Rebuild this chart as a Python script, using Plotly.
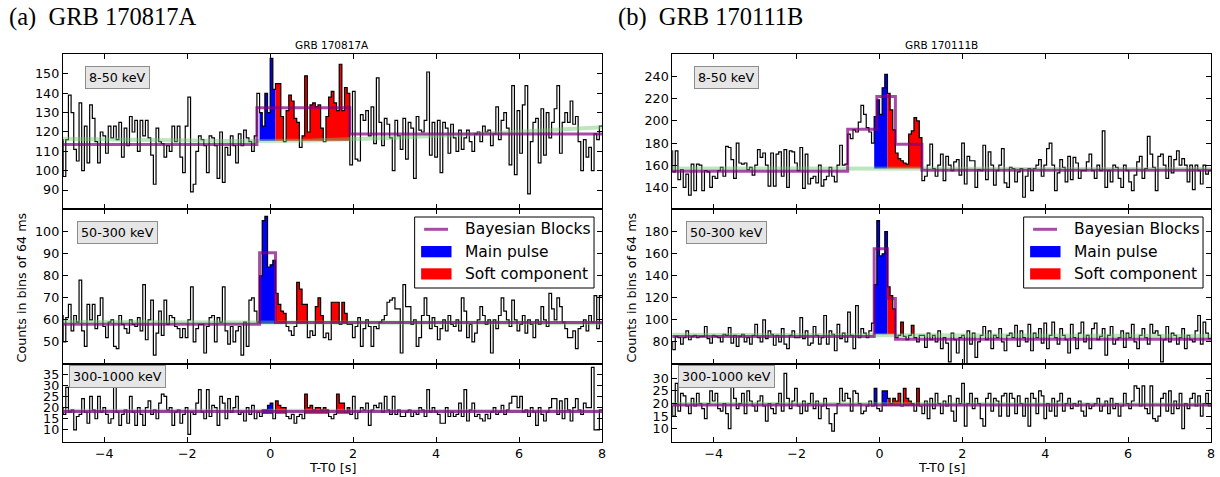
import numpy as np
import plotly.graph_objects as go

W, H = 1220, 477
BIN = 0.064          # 64 ms light-curve bins
T_START = -5.056     # first bin edge (aligned to T0)

# ---------------- GRB 170817A counts per 64 ms bin ----------------
a_8_50 = [
    116, 97, 116, 139, 130, 111, 105, 135, 100, 123,
    104, 134, 127, 115, 104, 120, 118, 109, 123, 117,
    123, 116, 125, 107, 122, 113, 128, 120, 126, 110,
    126, 118, 126, 117, 108, 93, 122, 115, 114, 107,
    113, 110, 123, 115, 123, 107, 99, 123, 138, 89,
    93, 110, 118, 116, 113, 99, 118, 117, 113, 96,
    120, 94, 112, 108, 118, 113, 104, 119, 113, 121,
    117, 115, 110, 118, 140, 130, 123, 140, 130, 158,
    142, 145, 145, 128, 115, 131, 139, 136, 127, 125,
    112, 118, 149, 120, 134, 135, 133, 134, 122, 115,
    128, 138, 141, 135, 131, 155, 131, 143, 140, 103,
    141, 106, 105, 129, 126, 131, 118, 133, 114, 148,
    125, 113, 127, 124, 117, 100, 126, 118, 111, 127,
    106, 125, 122, 96, 128, 121, 120, 126, 151, 108,
    125, 107, 126, 99, 125, 122, 109, 124, 117, 110,
    121, 111, 117, 121, 115, 110, 119, 120, 115, 123,
    120, 121, 113, 119, 133, 116, 126, 130, 122, 103,
    144, 98, 131, 109, 134, 144, 88, 115, 125, 127,
    104, 132, 108, 130, 117, 125, 132, 144, 109, 125,
    130, 125, 136, 124, 128, 115, 100, 116, 107, 112,
    100, 119, 116, 123,
]
a_50_300 = [
    62, 50, 61, 67, 55, 62, 59, 78, 55, 48,
    67, 60, 67, 56, 62, 70, 57, 52, 59, 60,
    48, 47, 62, 58, 56, 54, 60, 58, 57, 61,
    55, 76, 51, 60, 69, 44, 54, 64, 53, 69,
    58, 62, 61, 57, 56, 52, 56, 52, 60, 75,
    50, 56, 58, 58, 45, 57, 61, 62, 50, 61,
    59, 75, 55, 49, 57, 50, 55, 57, 44, 59,
    48, 69, 70, 64, 59, 80, 105, 107, 84, 85,
    87, 72, 67, 64, 63, 57, 55, 53, 57, 77,
    74, 67, 67, 52, 55, 53, 66, 70, 62, 52,
    54, 51, 68, 68, 68, 58, 68, 63, 58, 58,
    52, 57, 61, 48, 56, 60, 57, 48, 57, 56,
    59, 60, 62, 68, 69, 70, 65, 65, 45, 76,
    66, 66, 58, 60, 48, 52, 62, 70, 62, 56,
    61, 57, 51, 56, 60, 55, 62, 58, 57, 60,
    55, 70, 64, 52, 58, 50, 54, 60, 66, 62,
    58, 60, 45, 60, 56, 62, 70, 64, 60, 57,
    69, 60, 55, 58, 62, 54, 60, 58, 52, 60,
    58, 66, 60, 57, 72, 65, 60, 70, 66, 59,
    56, 52, 52, 55, 47, 56, 57, 60, 55, 62,
    59, 71, 56, 71,
]
a_300_1000 = [
    20, 17, 29, 18, 19, 10, 16, 17, 24, 18,
    13, 25, 19, 15, 25, 18, 20, 17, 13, 15,
    30, 18, 12, 17, 19, 13, 25, 18, 12, 20,
    17, 12, 20, 23, 17, 19, 15, 22, 26, 25,
    19, 20, 12, 18, 19, 13, 17, 20, 8, 18,
    17, 22, 28, 18, 15, 28, 16, 21, 20, 12,
    25, 22, 15, 24, 18, 20, 25, 17, 18, 14,
    20, 17, 21, 15, 18, 16, 19, 19, 21, 22,
    15, 23, 21, 20, 20, 16, 15, 17, 13, 16,
    17, 15, 26, 20, 21, 19, 20, 20, 19, 20,
    19, 16, 15, 17, 26, 22, 22, 18, 20, 17,
    25, 15, 18, 20, 19, 22, 12, 19, 21, 20,
    22, 18, 25, 19, 17, 25, 17, 19, 16, 16,
    18, 19, 16, 18, 17, 20, 19, 16, 28, 18,
    20, 18, 17, 13, 13, 20, 16, 18, 16, 17,
    22, 16, 28, 14, 19, 22, 16, 17, 15, 14,
    17, 15, 18, 20, 17, 18, 21, 17, 19, 22,
    25, 25, 20, 25, 18, 19, 16, 20, 18, 12,
    20, 17, 14, 18, 20, 24, 24, 17, 23, 15,
    24, 19, 14, 20, 24, 19, 17, 22, 20, 20,
    38, 10, 10, 19,
]

# ---------------- GRB 170111B counts per 64 ms bin ----------------
b_8_50 = [
    173, 154, 173, 147, 156, 140, 152, 133, 161, 137,
    161, 160, 137, 155, 154, 140, 150, 148, 155, 158,
    150, 177, 176, 165, 148, 180, 162, 161, 162, 156,
    158, 151, 160, 174, 167, 171, 160, 141, 171, 141,
    170, 172, 150, 174, 140, 173, 172, 162, 155, 176,
    139, 170, 143, 148, 150, 144, 160, 141, 147, 150,
    158, 150, 145, 160, 178, 160, 161, 188, 184, 192,
    190, 199, 214, 206, 194, 190, 180, 204, 219, 206,
    230, 242, 225, 210, 192, 171, 166, 164, 162, 161,
    188, 191, 203, 200, 185, 146, 150, 160, 179, 157,
    150, 160, 170, 146, 168, 160, 155, 163, 165, 151,
    180, 143, 168, 164, 164, 140, 156, 155, 178, 147,
    172, 160, 142, 155, 160, 175, 144, 140, 158, 157,
    145, 154, 157, 131, 150, 157, 137, 157, 160, 165,
    150, 160, 175, 180, 160, 137, 153, 165, 158, 145,
    168, 147, 167, 162, 148, 155, 155, 163, 170, 155,
    148, 160, 155, 191, 140, 155, 145, 160, 158, 148,
    140, 160, 155, 145, 137, 151, 163, 168, 148, 157,
    186, 170, 158, 137, 168, 170, 160, 148, 168, 153,
    165, 173, 160, 166, 160, 145, 160, 138, 160, 155,
    143, 160, 152, 155,
]
b_50_300 = [
    80, 73, 85, 84, 78, 84, 90, 82, 85, 86,
    84, 85, 85, 94, 83, 79, 86, 85, 84, 80,
    87, 86, 93, 79, 86, 76, 85, 87, 80, 84,
    78, 86, 96, 84, 80, 100, 83, 90, 87, 77,
    86, 80, 92, 78, 74, 86, 90, 84, 84, 102,
    83, 90, 77, 79, 94, 86, 78, 84, 104, 78,
    90, 87, 72, 96, 83, 88, 80, 107, 86, 74,
    113, 84, 92, 88, 84, 90, 97, 132, 190, 158,
    160, 180, 130, 122, 110, 84, 86, 98, 85, 82,
    86, 95, 84, 80, 86, 86, 75, 88, 82, 86,
    80, 90, 74, 84, 79, 62, 88, 82, 70, 84,
    86, 58, 90, 78, 88, 66, 80, 86, 94, 82,
    90, 74, 86, 84, 92, 80, 72, 86, 88, 84,
    95, 76, 90, 84, 80, 96, 72, 88, 84, 92,
    79, 97, 74, 86, 98, 84, 78, 92, 86, 82,
    70, 96, 84, 74, 88, 98, 80, 86, 74, 92,
    97, 82, 85, 92, 68, 86, 94, 78, 82, 84,
    90, 75, 88, 84, 96, 80, 74, 86, 92, 84,
    78, 96, 88, 90, 86, 62, 82, 94, 80, 88,
    86, 78, 84, 92, 74, 86, 82, 80, 90, 104,
    78, 98, 88, 83,
]
b_300_1000 = [
    19, 15, 28, 17, 24, 23, 19, 16, 22, 19,
    24, 20, 18, 14, 20, 25, 21, 24, 18, 17,
    20, 16, 10, 27, 22, 18, 20, 24, 16, 25,
    21, 19, 17, 21, 23, 19, 13, 20, 18, 16,
    20, 24, 17, 32, 22, 18, 21, 26, 19, 16,
    21, 17, 20, 24, 18, 21, 14, 19, 22, 18,
    12, 9, 16, 20, 26, 21, 24, 22, 17, 25,
    24, 20, 16, 17, 19, 21, 19, 26, 18, 17,
    25, 25, 22, 20, 22, 21, 24, 19, 26, 22,
    21, 20, 17, 26, 19, 16, 21, 14, 22, 18,
    24, 20, 16, 21, 19, 23, 17, 13, 22, 20,
    28, 11, 20, 24, 18, 22, 20, 14, 11, 22,
    24, 17, 22, 21, 15, 23, 24, 15, 24, 22,
    16, 23, 20, 15, 22, 11, 24, 22, 16, 25,
    23, 14, 20, 17, 22, 15, 21, 24, 17, 20,
    22, 18, 20, 19, 21, 17, 15, 20, 18, 19,
    20, 22, 17, 19, 21, 16, 22, 18, 20, 15,
    19, 24, 20, 18, 21, 27, 26, 19, 27, 18,
    16, 27, 14, 13, 15, 22, 24, 17, 25, 16,
    21, 18, 24, 10, 20, 18, 22, 24, 19, 23,
    15, 20, 24, 19,
]

# Bayesian-block change points and block levels
a_bb_8_50_edges, a_bb_8_50 = [-5.056, -0.32, 1.92, 8.0], [113.5, 132.5, 119.0]
a_bb_50_300_edges, a_bb_50_300 = [-5.056, -0.256, 0.128, 8.0], [58.0, 90.5, 58.8]
a_bb_300_1000_edges, a_bb_300_1000 = [-5.056, 8.0], [18.2]
b_bb_8_50_edges, b_bb_8_50 = [-5.056, -0.768, -0.064, 0.384, 1.024, 8.0], [154.5, 192.5, 222.0, 179.0, 155.5]
b_bb_50_300_edges, b_bb_50_300 = [-5.056, -0.128, 0.192, 0.384, 8.0], [85.0, 164.5, 119.5, 82.5]
b_bb_300_1000_edges, b_bb_300_1000 = [-5.056, 8.0], [19.4]

# Background fit (knots of the smooth polynomial)
a_bg_8_50_t, a_bg_8_50 = [-5, -1, 1, 3, 5, 8], [116.5, 115.3, 115.6, 117.0, 119.0, 122.5]
a_bg_50_300_t, a_bg_50_300 = [-5, 8], [59.0, 58.6]
a_bg_300_1000_t, a_bg_300_1000 = [-5, 8], [18.6, 18.4]
b_bg_8_50_t, b_bg_8_50 = [-5, 8], [157.0, 156.8]
b_bg_50_300_t, b_bg_50_300 = [-5, 8], [86.5, 85.5]
b_bg_300_1000_t, b_bg_300_1000 = [-5, 8], [19.8, 19.6]

# Baseline of the shaded emission and the two intervals
a_base = [115.5, 58.3, 17.2]
b_base = [157.0, 87.0, 19.0]
a_main, a_soft = (-0.256, 0.128), (0.128, 1.92)
b_main, b_soft = (-0.128, 0.192), (0.192, 1.024)

bands = ["8-50 keV", "50-300 keV", "300-1000 keV"]
x_ticks = [-4, -2, 0, 2, 4, 6, 8]

PURPLE = "rgba(128,0,128,0.7)"
GREEN = "rgba(110,200,110,0.45)"
FONT = "DejaVu Sans"


def px(x):
    return x / W


def py(y):
    return 1 - y / H


def edges_of(counts):
    return T_START + BIN * np.arange(len(counts) + 1)


def fill_polygon(counts, base, t0, t1):
    e = edges_of(counts)
    i0 = int(round((t0 - T_START) / BIN))
    i1 = int(round((t1 - T_START) / BIN))
    xs, ys = [], []
    for i in range(i0, i1):
        h = max(counts[i], base)
        xs += [e[i], e[i + 1]]
        ys += [h, h]
    xs += [e[i1], e[i0]]
    ys += [base, base]
    return xs, ys


panels = [
    # counts, bb edges, bb levels, bg t, bg values, base, main, soft, y range, y ticks
    (a_8_50, a_bb_8_50_edges, a_bb_8_50, a_bg_8_50_t, a_bg_8_50, a_base[0], a_main, a_soft,
     [80.2, 160.3], list(range(90, 151, 10))),
    (a_50_300, a_bb_50_300_edges, a_bb_50_300, a_bg_50_300_t, a_bg_50_300, a_base[1], a_main, a_soft,
     [40.0, 110.3], list(range(50, 101, 10))),
    (a_300_1000, a_bb_300_1000_edges, a_bb_300_1000, a_bg_300_1000_t, a_bg_300_1000, a_base[2], a_main, a_soft,
     [4.6, 39.5], list(range(10, 36, 5))),
    (b_8_50, b_bb_8_50_edges, b_bb_8_50, b_bg_8_50_t, b_bg_8_50, b_base[0], b_main, b_soft,
     [120.4, 260.5], list(range(140, 241, 20))),
    (b_50_300, b_bb_50_300_edges, b_bb_50_300, b_bg_50_300_t, b_bg_50_300, b_base[1], b_main, b_soft,
     [60.0, 200.6], list(range(80, 181, 20))),
    (b_300_1000, b_bb_300_1000_edges, b_bb_300_1000, b_bg_300_1000_t, b_bg_300_1000, b_base[2], b_main, b_soft,
     [4.7, 35.7], list(range(10, 31, 5))),
]

col_x = [(63, 604), (674.5, 1215)]
row_y = [(54, 209), (209, 364), (364, 442)]

fig = go.Figure()
layout = dict(
    width=W, height=H, margin=dict(l=0, r=0, t=0, b=0),
    paper_bgcolor="white", plot_bgcolor="white", showlegend=False,
    font=dict(family=FONT, size=12.7, color="black"),
)

for n, (counts, bbe, bbl, bgt, bgv, base, main, soft, yr, yt) in enumerate(panels):
    assert len(counts) == 204, (n, len(counts))
    idx = n + 1
    col, row = divmod(n, 3)
    xa = "x" if idx == 1 else f"x{idx}"
    ya = "y" if idx == 1 else f"y{idx}"

    for (t0, t1), colr in ((main, "#0000ff"), (soft, "#ff0000")):
        fx, fy = fill_polygon(counts, base, t0, t1)
        fig.add_trace(go.Scatter(x=fx, y=fy, fill="toself", fillcolor=colr, mode="lines",
                                 line=dict(width=0), hoverinfo="skip", xaxis=xa, yaxis=ya))
    e = edges_of(counts)
    fig.add_trace(go.Scatter(x=e, y=list(counts) + [counts[-1]], mode="lines", line_shape="hv",
                             line=dict(color="black", width=1.2), xaxis=xa, yaxis=ya))
    fig.add_trace(go.Scatter(x=bgt, y=bgv, mode="lines", line=dict(color=GREEN, width=4),
                             xaxis=xa, yaxis=ya))
    fig.add_trace(go.Scatter(x=bbe, y=list(bbl) + [bbl[-1]], mode="lines", line_shape="hv",
                             line=dict(color=PURPLE, width=3), xaxis=xa, yaxis=ya))

    x0, x1 = col_x[col]
    y0, y1 = row_y[row]
    common = dict(showline=True, linecolor="black", linewidth=1, mirror="allticks",
                  ticks="inside", ticklen=5, tickwidth=1, tickcolor="black",
                  showgrid=False, zeroline=False, tickfont=dict(family=FONT, size=12.7))
    layout["xaxis" if idx == 1 else f"xaxis{idx}"] = dict(
        domain=[px(x0), px(x1)], anchor=ya, range=[-5, 8], tickmode="array",
        tickvals=x_ticks, showticklabels=(row == 2), **common)
    layout["yaxis" if idx == 1 else f"yaxis{idx}"] = dict(
        domain=[py(y1), py(y0)], anchor=xa, range=yr, tickmode="array", tickvals=yt,
        **common)

fig.update_layout(**layout)

annotations = []
shapes = []
titles = [("(a)\u2002GRB 170817A", "GRB 170817A", 0), ("(b)\u2002GRB 170111B", "GRB 170111B", 1)]
for big, small, col in titles:
    x0, x1 = col_x[col]
    xc = (x0 + x1) / 2
    annotations.append(dict(text=big, x=px(7 + 611 * col), y=py(17), xref="paper", yref="paper",
                            xanchor="left", yanchor="middle", showarrow=False,
                            font=dict(family="Liberation Serif", size=24.5, color="black")))
    annotations.append(dict(text=small, x=px(xc), y=py(45), xref="paper", yref="paper",
                            xanchor="center", yanchor="middle", showarrow=False,
                            font=dict(family=FONT, size=10.5, color="black")))
    annotations.append(dict(text="T-T0 [s]", x=px(xc), y=py(467), xref="paper", yref="paper",
                            xanchor="center", yanchor="middle", showarrow=False,
                            font=dict(family=FONT, size=12.7, color="black")))
    annotations.append(dict(text="Counts in bins of 64 ms", x=px(21.5 + 612 * col), y=py(287),
                            xref="paper", yref="paper", textangle=-90, xanchor="center",
                            yanchor="middle", showarrow=False,
                            font=dict(family=FONT, size=12.7, color="black")))
    # band labels
    for row, band in enumerate(bands):
        ly = [77.5, 232.5, 376.5][row]
        annotations.append(dict(text=band, x=px(117.5 + 611.5 * col), y=py(ly), xref="paper",
                                yref="paper", xanchor="center", yanchor="middle",
                                showarrow=False, bgcolor="#e6e6e6", bordercolor="#8c8c8c",
                                borderwidth=1, borderpad=3,
                                font=dict(family=FONT, size=12.7, color="black")))
    # legend
    dx = 611 * col
    shapes.append(dict(type="rect", xref="paper", yref="paper", layer="above",
                       x0=px(416 + dx), x1=px(596 + dx), y0=py(288), y1=py(217),
                       fillcolor="white", line=dict(color="black", width=1)))
    shapes.append(dict(type="line", xref="paper", yref="paper", layer="above",
                       x0=px(425.5 + dx), x1=px(449.5 + dx), y0=py(229.3), y1=py(229.3),
                       line=dict(color=PURPLE, width=3)))
    for yy0, yy1, colr in ((246, 257.3, "#0000ff"), (268.3, 279.5, "#ff0000")):
        shapes.append(dict(type="rect", xref="paper", yref="paper", layer="above",
                           x0=px(422.5 + dx), x1=px(453 + dx), y0=py(yy1), y1=py(yy0),
                           fillcolor=colr, line=dict(width=0)))
    for label, ly in (("Bayesian Blocks", 229.3), ("Main pulse", 251.7), ("Soft component", 274)):
        annotations.append(dict(text=label, x=px(465 + dx), y=py(ly), xref="paper", yref="paper",
                                xanchor="left", yanchor="middle", showarrow=False,
                                font=dict(family=FONT, size=15.5, color="black")))

fig.update_layout(annotations=annotations, shapes=shapes)
fig.write_html("out.html")
